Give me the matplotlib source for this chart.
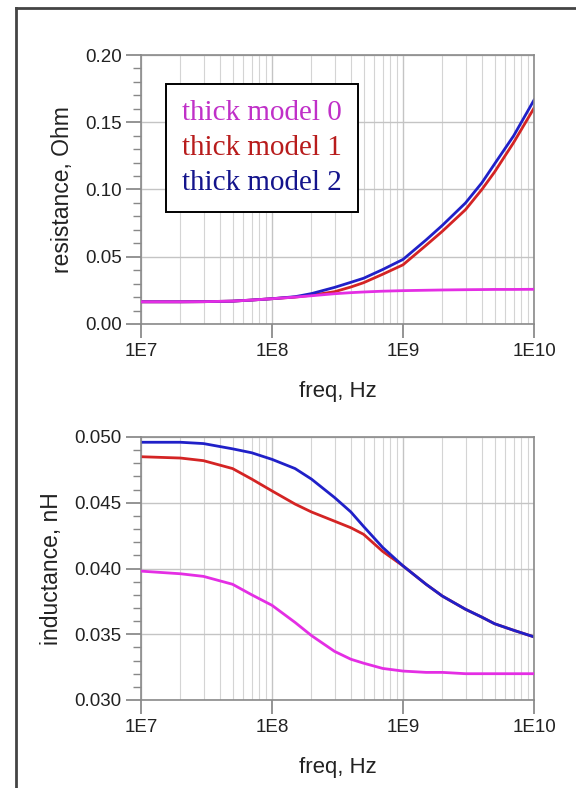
import numpy as np
import matplotlib
matplotlib.use("Agg")
import matplotlib.pyplot as plt
from matplotlib.ticker import MultipleLocator, FormatStrFormatter, FixedLocator, FuncFormatter, LogLocator
from matplotlib.lines import Line2D

# frequency points (Hz)
freq = [1e7, 2e7, 3e7, 5e7, 7e7, 1e8, 1.5e8, 2e8, 3e8, 4e8,
        5e8, 7e8, 1e9, 1.5e9, 2e9, 3e9, 4e9, 5e9, 7e9, 1e10]

# resistance, Ohm
res_model0 = [0.0165, 0.0165, 0.0166, 0.0170, 0.0178, 0.0188, 0.0200, 0.0210, 0.0225, 0.0233,
              0.0238, 0.0244, 0.0248, 0.0251, 0.0253, 0.0255, 0.0256, 0.0257, 0.0257, 0.0258]
res_model1 = [0.0165, 0.0165, 0.0166, 0.0170, 0.0178, 0.0188, 0.0200, 0.0214, 0.0240, 0.0275,
              0.0307, 0.0370, 0.0440, 0.0585, 0.0690, 0.0850, 0.1000, 0.1130, 0.1350, 0.1605]
res_model2 = [0.0165, 0.0165, 0.0166, 0.0170, 0.0178, 0.0188, 0.0203, 0.0226, 0.0272, 0.0310,
              0.0340, 0.0405, 0.0480, 0.0625, 0.0734, 0.0900, 0.1050, 0.1190, 0.1400, 0.1665]

# inductance, nH
ind_model0 = [0.0398, 0.0396, 0.0394, 0.0388, 0.0380, 0.0372, 0.0359, 0.0349, 0.0337, 0.0331,
              0.0328, 0.0324, 0.0322, 0.0321, 0.0321, 0.0320, 0.0320, 0.0320, 0.0320, 0.0320]
ind_model1 = [0.0485, 0.0484, 0.0482, 0.0476, 0.0468, 0.0459, 0.0449, 0.0443, 0.0436, 0.0431,
              0.0426, 0.0413, 0.0402, 0.0388, 0.0379, 0.0369, 0.0363, 0.0358, 0.0353, 0.0348]
ind_model2 = [0.0496, 0.0496, 0.0495, 0.0491, 0.0488, 0.0483, 0.0476, 0.0468, 0.0454, 0.0443,
              0.0432, 0.0416, 0.0402, 0.0388, 0.0379, 0.0369, 0.0363, 0.0358, 0.0353, 0.0348]

labels = ["thick model 0", "thick model 1", "thick model 2"]
line_colors = ["#e42ee4", "#d42424", "#2020c8"]
text_colors = ["#c030c8", "#b81c1c", "#14148c"]
xtick_vals = [1e7, 1e8, 1e9, 1e10]
xtick_labels = ["1E7", "1E8", "1E9", "1E10"]

plt.rcParams['font.family'] = ['Liberation Sans', 'DejaVu Sans']

W, H = 576, 788
fig = plt.figure(figsize=(W / 100, H / 100), dpi=100)
fig.patch.set_facecolor("white")

# outer frame (left and top edges visible)
fig.add_artist(Line2D([16 / W, 16 / W], [0, 1 - 8 / H], transform=fig.transFigure,
                      color="#444444", lw=2))
fig.add_artist(Line2D([16 / W, 1], [1 - 8 / H, 1 - 8 / H], transform=fig.transFigure,
                      color="#444444", lw=2))

ax1 = fig.add_axes([141 / W, 1 - 324 / H, 393 / W, 269 / H])
ax2 = fig.add_axes([141 / W, 1 - 700 / H, 393 / W, 263 / H])


def style_axes(ax, ymin, ymax, ymaj, ymin_step, fmt, ylabel):
    ax.set_xscale("log")
    ax.set_xlim(1e7, 1e10)
    ax.set_ylim(ymin, ymax)
    ax.xaxis.set_major_locator(FixedLocator(xtick_vals))
    ax.xaxis.set_major_formatter(FuncFormatter(lambda v, p: xtick_labels[xtick_vals.index(v)] if v in xtick_vals else ""))
    ax.xaxis.set_minor_locator(LogLocator(base=10, subs=np.arange(2, 10)))
    ax.xaxis.set_minor_formatter(FuncFormatter(lambda v, p: ""))
    ax.yaxis.set_major_locator(MultipleLocator(ymaj))
    ax.yaxis.set_minor_locator(MultipleLocator(ymin_step))
    ax.yaxis.set_major_formatter(FormatStrFormatter(fmt))
    ax.grid(True, which="major", axis="both", color="#c4c4c4", lw=1.0)
    ax.grid(True, which="minor", axis="x", color="#d4d4d4", lw=0.8)
    ax.set_axisbelow(True)
    for s in ax.spines.values():
        s.set_color("#8a8a8a")
        s.set_linewidth(1.2)
    ax.tick_params(axis="y", which="major", direction="out", length=11, width=1.1,
                   color="#777777", labelsize=13.5, labelcolor="#222222", pad=3)
    ax.tick_params(axis="y", which="minor", direction="out", length=6, width=1.0, color="#888888")
    ax.tick_params(axis="x", which="major", direction="out", length=10, width=1.1,
                   color="#777777", labelsize=13.5, labelcolor="#222222", pad=4)
    ax.tick_params(axis="x", which="minor", length=0)
    ax.set_xlabel("freq, Hz", fontsize=16, color="#222222", labelpad=15)
    ax.set_ylabel(ylabel, fontsize=16.5, color="#222222", labelpad=8)


style_axes(ax1, 0.0, 0.20, 0.05, 0.01, "%.2f", "resistance, Ohm")
style_axes(ax2, 0.030, 0.050, 0.005, 0.001, "%.3f", "inductance, nH")

for series, ax in [((res_model0, res_model1, res_model2), ax1),
                   ((ind_model0, ind_model1, ind_model2), ax2)]:
    lines = []
    for vals, c, lab in zip(series, line_colors, labels):
        ln, = ax.plot(freq, vals, color=c, lw=2.0, label=lab)
        lines.append(ln)
    # magenta trace sits on top like the original
    lines[0].set_zorder(3)

# legend box with coloured text, no handles
handles = [Line2D([], [], lw=0, color="none") for _ in labels]
leg = ax1.legend(handles, labels, loc="upper left",
                 bbox_to_anchor=(166 / W, 1 - 84 / H), bbox_transform=fig.transFigure,
                 borderaxespad=0, handlelength=0, handletextpad=0,
                 prop={"family": "Liberation Serif", "size": 21},
                 labelspacing=0.28, borderpad=0.55, frameon=True, fancybox=False)
leg.get_frame().set_edgecolor("black")
leg.get_frame().set_linewidth(1.4)
leg.get_frame().set_alpha(1)
for t, c in zip(leg.get_texts(), text_colors):
    t.set_color(c)

fig.savefig("out.png", dpi=100)
